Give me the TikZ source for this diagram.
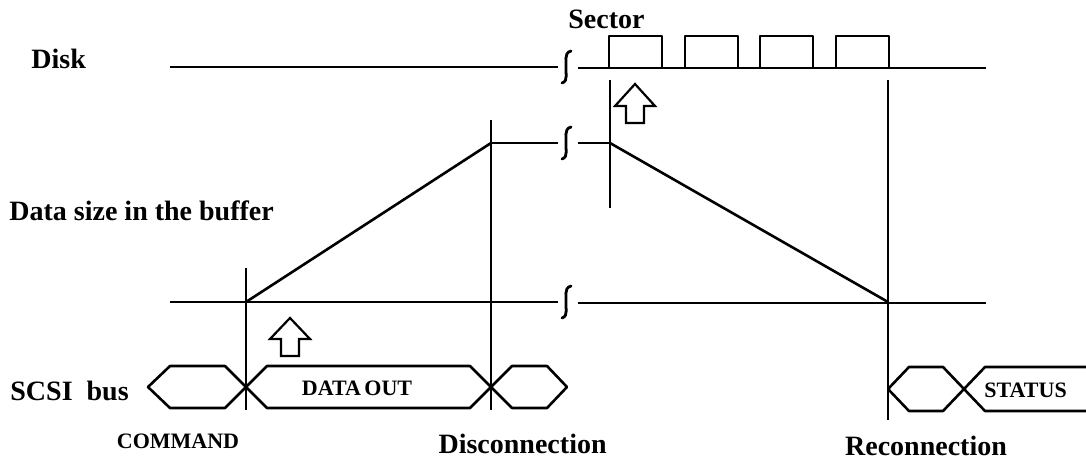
\documentclass[tikz,border=0pt]{standalone}
\usepackage{fontspec}
\setmainfont{Liberation Serif}
\usetikzlibrary{positioning}

\begin{document}
\begin{tikzpicture}[x=0.5pt,y=-0.5pt,
    sig/.style={line width=1.3pt,line join=round},
    big/.style={font=\fontsize{14}{16}\selectfont\bfseries,inner sep=0pt},
    small/.style={font=\fontsize{11}{13}\selectfont\bfseries,inner sep=0pt},
    brk/.style={line width=1.4pt,line cap=round}]
        \useasboundingbox (0,0) rectangle (1086,461);
        % time points
        \coordinate (cmd) at (246,302);
        \coordinate (disc) at (491,143);
        \coordinate (sec) at (610,143);
        \coordinate (rec) at (888,302);
        % labels
        \node[big,anchor=base west] (disk) at (31,68) {Disk};
        \node[big,anchor=base west] (buf) at (9,220) {Data size in the buffer};
        \node[big,anchor=base west] (bus) at (10,400) {SCSI\ \ bus};
        \node[big,anchor=base west] (sector) at (568,28) {Sector};
        \node[small,anchor=base] (command) at (178,448) {COMMAND};
        \node[big,anchor=base east] (discon) at (607,453) {Disconnection};
        \node[big,anchor=base] (recon) at (926,455) {Reconnection};
        \node[small,anchor=base] (dataout) at (357,395) {DATA\kern-1pt\ OUT};
        \node[small,anchor=base west] (status) at (984,397) {STATUS};
        % disk track with sectors
        \draw[sig] (170,67) -- (558,67);
        \draw[sig] (578,68) -- (986,68);
        \foreach \x in {609,685,760,836}{
          \draw[sig] (\x,68) -- (\x,36) -- (\x+53,36) -- (\x+53,68);
        }
        % buffer levels
        \draw[sig] (170,302) -- (558,302);
        \draw[sig] (578,303) -- (986,303);
        \draw[sig] (disc) -- (558,143);
        \draw[sig] (578,143) -- (sec);
        \draw[sig] (cmd) -- (disc);
        \draw[sig] (sec) -- (rec);
        % breaks
        \foreach \y in {67,143,302}{
          \draw[brk] (571,\y-16) .. controls (563,\y-14) and (567,\y-4) .. (566,\y)
                                 .. controls (565,\y+4) and (569,\y+14) .. (562,\y+16);
        }
        % event lines
        \draw[sig] (246,268) -- (246,410);
        \draw[sig] (491,120) -- (491,410);
        \draw[sig] (610,80) -- (610,208);
        \draw[sig] (888,80) -- (888,420);
        % arrows
        \draw[line width=1.1pt,line join=miter] (290,318) -- (310,339) -- (299,339) -- (299,356)
          -- (281,356) -- (281,339) -- (270,339) -- cycle;
        \draw[line width=1.1pt,line join=miter] (635,84) -- (655,106) -- (644,106) -- (644,123)
          -- (626,123) -- (626,106) -- (615,106) -- cycle;
        % SCSI bus phases
        \draw[sig] (246,387) -- (225,366) -- (170,366) -- (148,387) -- (170,408) -- (225,408) -- cycle;
        \draw[sig] (246,387) -- (267,366) -- (470,366) -- (491,387) -- (470,408) -- (267,408) -- cycle;
        \draw[sig] (491,387) -- (512,366) -- (547,366) -- (567,387) -- (547,408) -- (512,408) -- cycle;
        \draw[sig] (888,389) -- (909,367) -- (943,367) -- (964,389) -- (943,411) -- (909,411) -- cycle;
        \draw[sig] (1086,367) -- (985,367) -- (964,389) -- (985,411) -- (1086,411);
\end{tikzpicture}
\end{document}
